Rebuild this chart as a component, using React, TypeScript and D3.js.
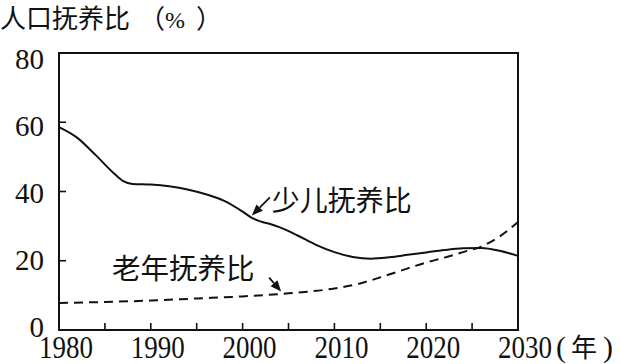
import React from "react";
import * as d3 from "d3";

const youthYears = [1980, 1982, 1984, 1986, 1987, 1988, 1990, 1992, 1994, 1996, 1998, 2000, 2001, 2002, 2003, 2004, 2006, 2008, 2010, 2012, 2014, 2016, 2018, 2020, 2022, 2024, 2026, 2028, 2030];
const youthValues = [58.6, 55.5, 50.5, 45.2, 43.0, 42.2, 42.0, 41.5, 40.6, 39.2, 37.3, 34.2, 32.4, 31.3, 30.6, 29.7, 27.3, 24.6, 22.5, 21.1, 20.6, 21.0, 21.7, 22.4, 23.1, 23.6, 23.7, 22.9, 21.4];
const elderYears = [1980, 1985, 1990, 1995, 2000, 2005, 2010, 2013, 2015, 2018, 2020, 2022, 2024, 2026, 2028, 2030];
const elderValues = [7.8, 8.1, 8.5, 9.1, 9.7, 10.6, 12.0, 13.6, 15.2, 17.8, 19.5, 20.9, 22.5, 24.1, 27.0, 31.2];
const xTickLabels = [1980, 1990, 2000, 2010, 2020, 2030];
const xMinorTicks = [1985, 1990, 1995, 2000, 2005, 2010, 2015, 2020, 2025];
const yTickLabels = [0, 20, 40, 60, 80];
const yMinorTicks = [20, 40, 60];
const titleMain = "人口抚养比";
const titleUnit = ["（", "%", "）"];
const youthLabel = "少儿抚养比";
const elderLabel = "老年抚养比";
const yearUnit = ["(", "年", ")"];

const W = 620;
const H = 364;
const L = 59, R = 518, T = 53, B = 330;

export default function App() {
  const x = d3.scaleLinear().domain([1980, 2030]).range([L, R]);
  const y = d3.scaleLinear().domain([0, 80]).range([B, T]);
  const line = d3
    .line<[number, number]>()
    .x((d) => x(d[0]))
    .y((d) => y(d[1]))
    .curve(d3.curveMonotoneX);
  const youth = line(youthYears.map((yr, i) => [yr, youthValues[i]] as [number, number])) || "";
  const elder = line(elderYears.map((yr, i) => [yr, elderValues[i]] as [number, number])) || "";

  const yHead: [number, number] = [x(2000.9) + 1, y(32.8) - 1];
  const yTail: [number, number] = [yHead[0] + 18, yHead[1] - 18];
  const eHead: [number, number] = [x(2004.2), y(10.8) - 1];
  const eTail: [number, number] = [eHead[0] - 12, eHead[1] - 14];

  const arrow = (tail: [number, number], head: [number, number]) => {
    const ang = Math.atan2(head[1] - tail[1], head[0] - tail[0]);
    const len = 11, wid = 4.5;
    const bx = head[0] - len * Math.cos(ang);
    const by = head[1] - len * Math.sin(ang);
    const p1 = [bx + wid * Math.sin(ang), by - wid * Math.cos(ang)];
    const p2 = [bx - wid * Math.sin(ang), by + wid * Math.cos(ang)];
    return (
      <g>
        <line x1={tail[0]} y1={tail[1]} x2={bx} y2={by} stroke="#111" strokeWidth={1.8} />
        <polygon points={`${head[0]},${head[1]} ${p1[0]},${p1[1]} ${p2[0]},${p2[1]}`} fill="#111" />
      </g>
    );
  };

  const serif = { fontFamily: "'Liberation Serif', 'Times New Roman', 'DejaVu Serif', serif" };
  const cjk = { fontFamily: "'Noto Sans CJK SC', sans-serif" };

  return (
    <svg width={W} height={H} style={{ position: "absolute", left: 0, top: 0, background: "#fff" }}>
      <rect x={0} y={0} width={W} height={H} fill="#fff" />
      <text x={0} y={28} style={cjk} fontSize={26} fill="#111">
        {titleMain}
      </text>
      <text x={139} y={28} style={cjk} fontSize={26} fill="#111">
        {titleUnit[0]}
      </text>
      <text x={165} y={28} style={serif} fontSize={24} textLength={20} lengthAdjust="spacingAndGlyphs" fill="#111">
        {titleUnit[1]}
      </text>
      <text x={196} y={28} style={cjk} fontSize={26} fill="#111">
        {titleUnit[2]}
      </text>
      <rect x={L} y={T} width={R - L} height={B - T} fill="none" stroke="#111" strokeWidth={2} />
      {xMinorTicks.map((t) => (
        <line key={"xt" + t} x1={x(t)} x2={x(t)} y1={B} y2={B - 7} stroke="#111" strokeWidth={1.6} />
      ))}
      {yMinorTicks.map((t) => (
        <line key={"yt" + t} x1={L} x2={L + 7} y1={y(t)} y2={y(t)} stroke="#111" strokeWidth={1.6} />
      ))}
      {yTickLabels.map((t) => (
        <text
          key={"yl" + t}
          x={L - 15}
          y={y(t) - 3 + t * 0.11}
          textAnchor="end"
          dominantBaseline="central"
          style={serif}
          fontSize={29}
          fill="#111"
        >
          {t}
        </text>
      ))}
      {xTickLabels.map((t) => (
        <text
          key={"xl" + t}
          x={x(t) + 7}
          y={358}
          textAnchor="middle"
          style={serif}
          fontSize={31}
          textLength={54}
          lengthAdjust="spacingAndGlyphs"
          fill="#111"
        >
          {t}
        </text>
      ))}
      <text x={x(2030) + 38} y={357} style={serif} fontSize={30} fill="#111">
        {yearUnit[0]}
      </text>
      <text x={x(2030) + 53} y={357} style={cjk} fontSize={26} fill="#111">
        {yearUnit[1]}
      </text>
      <text x={x(2030) + 85} y={357} style={serif} fontSize={30} fill="#111">
        {yearUnit[2]}
      </text>
      <path d={youth} fill="none" stroke="#111" strokeWidth={2} />
      <path d={elder} fill="none" stroke="#111" strokeWidth={2} strokeDasharray="9,6" />
      {arrow(yTail, yHead)}
      <text x={yTail[0] + 2} y={211} style={cjk} fontSize={28} fill="#111">
        {youthLabel}
      </text>
      {arrow(eTail, eHead)}
      <text x={112} y={279} style={cjk} fontSize={28.5} fill="#111">
        {elderLabel}
      </text>
    </svg>
  );
}
